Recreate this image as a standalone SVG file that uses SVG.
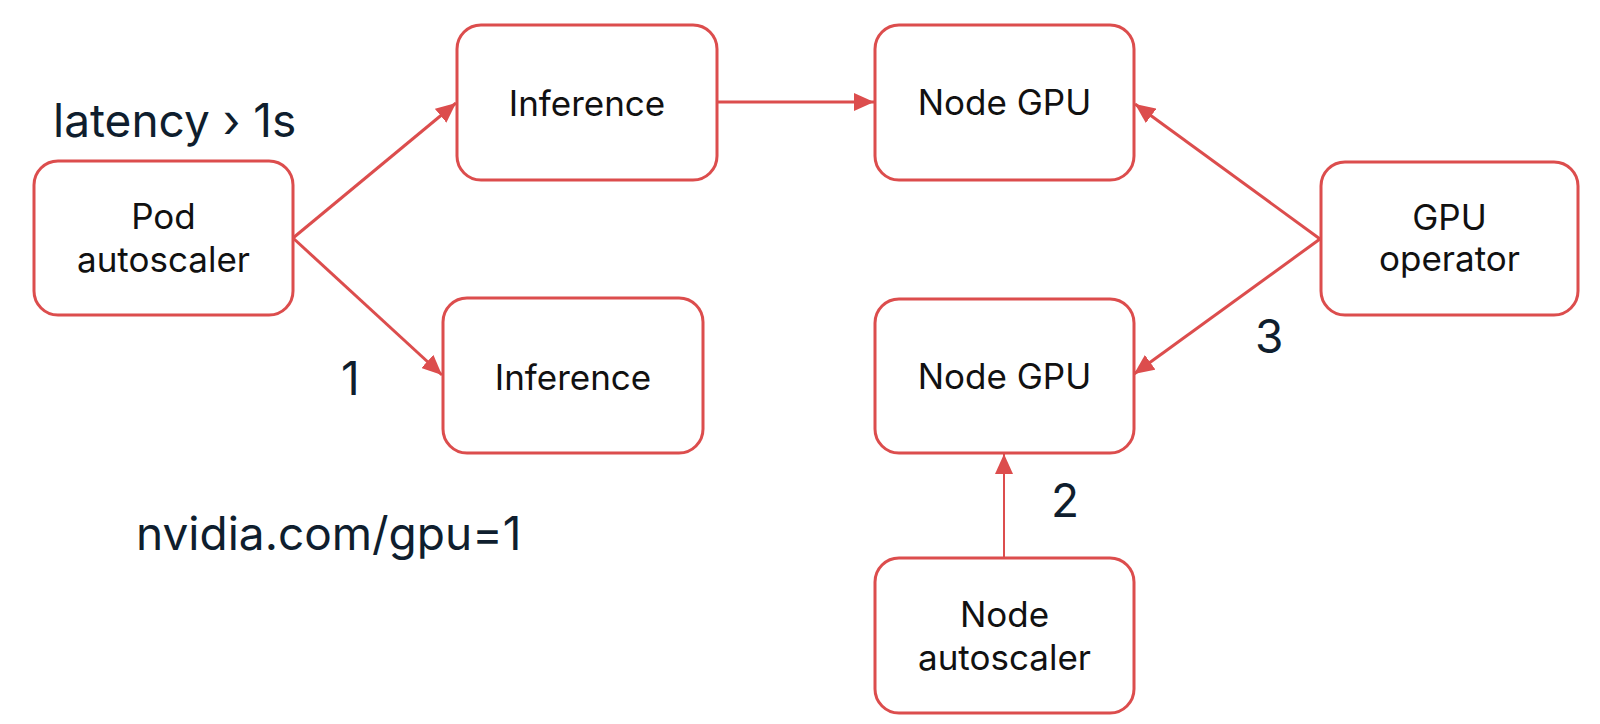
<svg xmlns="http://www.w3.org/2000/svg" width="1600" height="724" viewBox="0 0 1600 724">
<defs>
<style>
.box{fill:#fff;stroke:#dc4d4d;stroke-width:3}
.lbl{font-family:Inter,"Noto Sans","Liberation Sans",sans-serif;font-size:35px;fill:#111;text-anchor:middle}
.note{font-family:Inter,"Noto Sans","Liberation Sans",sans-serif;font-size:46px;fill:#0f1e2e}
.edge{stroke:#dc4d4d;stroke-width:3;fill:none;marker-end:url(#ah)}
.thin{stroke-width:2}
</style>
<marker id="ah" markerUnits="userSpaceOnUse" markerWidth="22" markerHeight="18" refX="20" refY="9" orient="auto">
<path d="M0,0 L20,9 L0,18 z" fill="#dc4d4d"/>
</marker>
</defs>
<rect width="1600" height="724" fill="#fff"/>
<g id="connectors">
<line class="edge" x1="293" y1="238" x2="456" y2="103"/>
<line class="edge" x1="293" y1="238" x2="442" y2="375"/>
<line class="edge" x1="717" y1="102" x2="874" y2="102"/>
<line class="edge" x1="1320" y1="239" x2="1135" y2="104"/>
<line class="edge" x1="1320" y1="239" x2="1134" y2="374"/>
<line class="edge thin" x1="1004" y1="558" x2="1004" y2="454"/>
</g>
<g id="pod-autoscaler">
<rect class="box" x="34" y="161" width="259" height="154" rx="24"/>
<text class="lbl" x="163.5" y="229">Pod</text>
<text class="lbl" x="163.5" y="272">autoscaler</text>
</g>
<g id="inference-top">
<rect class="box" x="457" y="25" width="260" height="155" rx="24"/>
<text class="lbl" x="587" y="116">Inference</text>
</g>
<g id="inference-bottom">
<rect class="box" x="443" y="298" width="260" height="155" rx="24"/>
<text class="lbl" x="573" y="390">Inference</text>
</g>
<g id="node-gpu-top">
<rect class="box" x="875" y="25" width="259" height="155" rx="24"/>
<text class="lbl" x="1004.5" y="115">Node GPU</text>
</g>
<g id="node-gpu-bottom">
<rect class="box" x="875" y="299" width="259" height="154" rx="24"/>
<text class="lbl" x="1004.5" y="389">Node GPU</text>
</g>
<g id="gpu-operator">
<rect class="box" x="1321" y="162" width="257" height="153" rx="24"/>
<text class="lbl" x="1449.5" y="230">GPU</text>
<text class="lbl" x="1449.5" y="271">operator</text>
</g>
<g id="node-autoscaler">
<rect class="box" x="875" y="558" width="259" height="155" rx="24"/>
<text class="lbl" x="1004.5" y="627">Node</text>
<text class="lbl" x="1004.5" y="670">autoscaler</text>
</g>
<g id="notes">
<text class="note" x="53" y="137">latency › 1s</text>
<text class="note" x="341" y="395">1</text>
<text class="note" x="1051" y="517">2</text>
<text class="note" x="1255" y="353">3</text>
<text class="note" x="136" y="550">nvidia.com/gpu=1</text>
</g>
</svg>
